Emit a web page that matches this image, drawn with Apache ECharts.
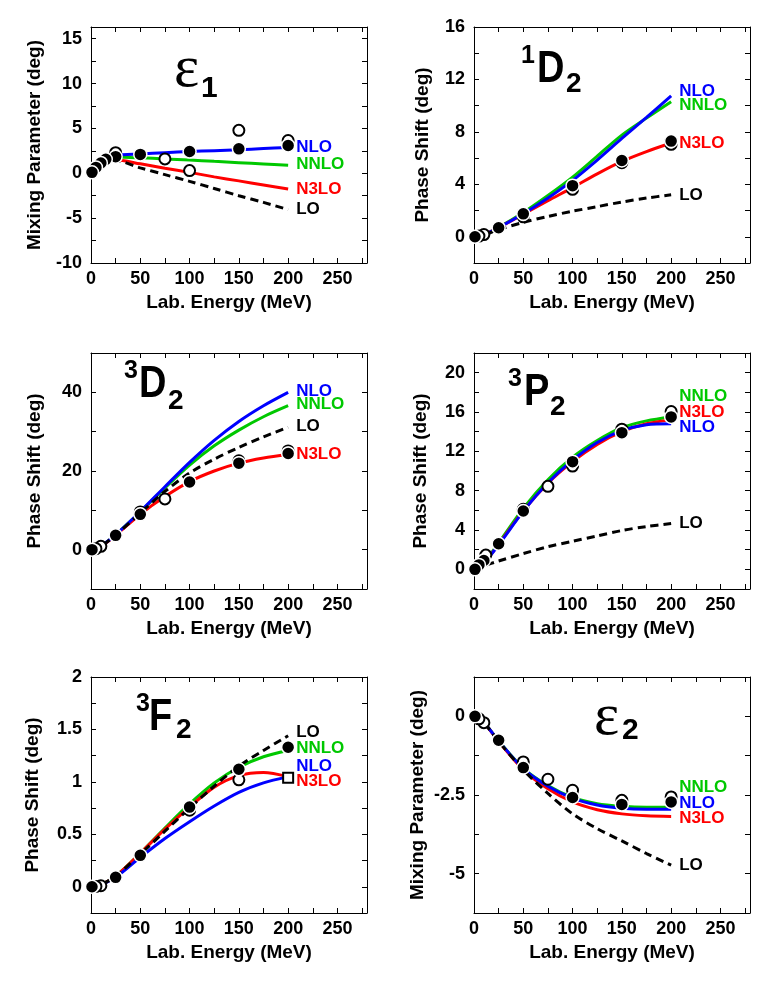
<!DOCTYPE html>
<html lang="en">
<head>
<meta charset="UTF-8">
<title>NN phase shifts</title>
<style>
  html, body { margin: 0; padding: 0; background: #fff; }
  #chart { width: 777px; height: 986px; }
</style>
</head>
<body>
<div id="chart"></div>
<script src="https://cdn.jsdelivr.net/npm/echarts@6/dist/echarts.min.js"></script>
<script>
// lab energies (MeV) at which the curves are read
var energies = [0, 10, 25, 50, 75, 100, 125, 150, 175, 200];

// epsilon 1
var e1LO   = [0, 1.05, 1.4, 0.6, -0.15, -0.9, -1.7, -2.5, -3.25, -4.05];
var e1NLO  = [0, 1.15, 1.95, 2.15, 2.3, 2.42, 2.52, 2.62, 2.75, 2.88];
var e1NNLO = [0, 1.15, 1.8, 1.72, 1.6, 1.48, 1.33, 1.18, 1.03, 0.88];
var e1N3LO = [0, 1.1, 1.5, 1.05, 0.55, 0.1, -0.4, -0.85, -1.3, -1.75];
var e1Filled = [[200, 3.1], [150, 2.72], [100, 2.42], [50, 2.1], [25, 1.85], [15, 1.55], [10, 1.15], [5, 0.65], [1, 0.1]];
var e1Open   = [[200, 3.65], [150, 4.78], [100, 0.3], [75, 1.6], [25, 2.3]];

// 1D2
var d1LO   = [0, 0.15, 0.55, 1.1, 1.55, 1.95, 2.3, 2.65, 2.95, 3.2];
var d1NLO  = [0, 0.17, 0.7, 1.75, 2.95, 4.3, 5.85, 7.5, 9.1, 10.75];
var d1NNLO = [0, 0.17, 0.72, 1.85, 3.15, 4.55, 6.15, 7.75, 9.05, 10.3];
var d1N3LO = [0, 0.17, 0.7, 1.72, 2.75, 3.75, 4.8, 5.75, 6.5, 7.15];
var d1Filled = [[200, 7.3], [150, 5.82], [100, 3.9], [50, 1.75], [25, 0.69], [1, 0]];
var d1Open   = [[200, 7.05], [150, 5.65], [100, 3.62], [50, 1.52], [10, 0.17], [5, 0.05]];

// 3D2
var d3LO   = [0, 0.9, 3.7, 9.3, 14.8, 19.5, 23.0, 26.0, 28.7, 31.1];
var d3NLO  = [0, 0.9, 3.8, 9.7, 16.0, 22.2, 27.8, 32.6, 36.6, 40.0];
var d3NNLO = [0, 0.9, 3.8, 9.6, 15.7, 21.5, 26.4, 30.4, 33.8, 36.6];
var d3N3LO = [0, 0.85, 3.65, 9.0, 13.5, 17.3, 20.0, 22.0, 23.3, 24.2];
var d3Filled = [[200, 24.45], [150, 22.0], [100, 17.2], [50, 8.98], [25, 3.65], [1, 0]];
var d3Open   = [[200, 25.1], [150, 22.6], [75, 12.9], [50, 9.6], [10, 0.85], [5, 0.25]];

// 3P2
var p3LO   = [0, 0.35, 0.85, 1.6, 2.3, 2.85, 3.4, 3.95, 4.35, 4.65];
var p3NLO  = [0, 0.65, 2.5, 5.9, 8.8, 11.1, 12.9, 14.1, 14.7, 14.8];
var p3NNLO = [0, 0.7, 2.7, 6.2, 9.1, 11.4, 13.1, 14.4, 15.1, 15.5];
var p3N3LO = [0, 0.65, 2.55, 5.95, 8.75, 10.95, 12.7, 14.0, 14.8, 15.2];
var p3Filled = [[200, 15.5], [150, 13.9], [100, 10.95], [50, 5.93], [25, 2.6], [10, 0.9], [5, 0.45], [1, 0]];
var p3Open   = [[200, 16.05], [150, 14.25], [100, 10.5], [75, 8.44], [50, 6.1], [12, 1.45]];

// 3F2
var f3LO   = [0, 0.02, 0.1, 0.31, 0.53, 0.75, 0.96, 1.15, 1.3, 1.44];
var f3NLO  = [0, 0.02, 0.09, 0.28, 0.46, 0.62, 0.77, 0.9, 0.99, 1.05];
var f3NNLO = [0, 0.02, 0.1, 0.32, 0.56, 0.79, 0.99, 1.14, 1.24, 1.3];
var f3N3LO = [0, 0.02, 0.1, 0.32, 0.55, 0.76, 0.95, 1.06, 1.09, 1.05];
var f3Filled = [[200, 1.33], [150, 1.12], [100, 0.76], [50, 0.3], [25, 0.09], [1, 0]];
var f3Open   = [[150, 1.02], [100, 0.73], [10, 0.01], [5, 0.003]];
var f3Square = [[200, 1.04]];

// epsilon 2
var e2LO   = [0, -0.2, -0.8, -1.7, -2.45, -3.1, -3.57, -3.96, -4.36, -4.73];
var e2NLO  = [0, -0.2, -0.78, -1.66, -2.22, -2.6, -2.82, -2.92, -2.95, -2.95];
var e2NNLO = [0, -0.2, -0.78, -1.65, -2.2, -2.58, -2.78, -2.86, -2.89, -2.88];
var e2N3LO = [0, -0.2, -0.8, -1.7, -2.3, -2.72, -2.97, -3.1, -3.16, -3.18];
var e2Filled = [[200, -2.72], [150, -2.8], [100, -2.58], [50, -1.63], [25, -0.76], [1, 0]];
var e2Open   = [[200, -2.56], [150, -2.67], [100, -2.35], [75, -2.0], [50, -1.45], [10, -0.2], [5, -0.08]];

var FONT = '"Liberation Sans", Arial, sans-serif';
var colors = { NNLO: '#00c800', N3LO: '#ff0000', NLO: '#0000ff', LO: '#000000' };

var panels = [
  { left: 91, top: 27, yName: 'Mixing Parameter (deg)', min: -10, max: 16.3, step: 2.5, every: 5, gap: 47,
    curves: { NNLO: e1NNLO, N3LO: e1N3LO, NLO: e1NLO, LO: e1LO }, offs: { NNLO: -1, N3LO: 0, NLO: 0, LO: 0 },
    filled: e1Filled, open: e1Open },
  { left: 474, top: 27, yName: 'Phase Shift (deg)', min: -2, max: 16, step: 2, every: 4, gap: 42,
    curves: { NNLO: d1NNLO, N3LO: d1N3LO, NLO: d1NLO, LO: d1LO }, offs: { NNLO: 4, N3LO: 0, NLO: -5, LO: 0 },
    filled: d1Filled, open: d1Open },
  { left: 91, top: 353, yName: 'Phase Shift (deg)', min: -10, max: 50, step: 10, every: 20, gap: 47,
    curves: { NNLO: d3NNLO, N3LO: d3N3LO, NLO: d3NLO, LO: d3LO }, offs: { NNLO: -1, N3LO: 0, NLO: -1, LO: -1 },
    filled: d3Filled, open: d3Open },
  { left: 474, top: 353, yName: 'Phase Shift (deg)', min: -2, max: 22, step: 2, every: 4, gap: 44,
    curves: { NNLO: p3NNLO, N3LO: p3N3LO, NLO: p3NLO, LO: p3LO }, offs: { NNLO: -21, N3LO: -8, NLO: 3.5, LO: 0 },
    filled: p3Filled, open: p3Open },
  { left: 91, top: 677, yName: 'Phase Shift (deg)', min: -0.25, max: 2, step: 0.25, every: 0.5, gap: 49,
    curves: { NNLO: f3NNLO, N3LO: f3N3LO, NLO: f3NLO, LO: f3LO }, offs: { NNLO: -2, N3LO: 5, NLO: -10.5, LO: -3 },
    filled: f3Filled, open: f3Open, square: f3Square },
  { left: 474, top: 677, yName: 'Mixing Parameter (deg)', min: -6.25, max: 1.25, step: 1.25, every: 2.5, gap: 47,
    curves: { NNLO: e2NNLO, N3LO: e2N3LO, NLO: e2NLO, LO: e2LO }, offs: { NNLO: -20, N3LO: 2.3, NLO: -5.5, LO: 0 },
    filled: e2Filled, open: e2Open }
];

// panel labels: [text, x, y, size, serif, scaleY]
var titles = [
  [['ε', 174, 40, 60, true], ['1', 201, 74, 30]],
  [['1', 521, 43.7, 25], ['D', 537, 48.3, 38, false, 1.15], ['2', 566, 70.3, 28]],
  [['3', 124, 358.7, 25], ['D', 139, 363.3, 38, false, 1.15], ['2', 168, 387, 28]],
  [['3', 508, 366.7, 25], ['P', 524, 371.3, 38, false, 1.15], ['2', 550, 393.3, 28]],
  [['3', 136, 691.7, 25], ['F', 149, 696.3, 38, false, 1.15], ['2', 176, 716, 28]],
  [['ε', 594, 688, 60, true], ['2', 622, 716, 30]]
];

function every(step) {
  return function (v) {
    var r = v / step;
    return Math.abs(r - Math.round(r)) < 1e-6 ? String(+v.toFixed(2)) : '';
  };
}

var tickStyle = { show: true, inside: true, length: 5, lineStyle: { color: '#000', width: 1 } };
var lineAxis = { show: true, onZero: false, lineStyle: { color: '#000', width: 1 } };
var labelFont = { fontFamily: FONT, fontWeight: 'bold', fontSize: 18, color: '#000' };

var grids = [], xAxes = [], yAxes = [], series = [], graphics = [];

panels.forEach(function (p, i) {
  grids.push({ left: p.left, top: p.top, width: 276, height: 236 });
  var xb = { gridIndex: i, type: 'value', min: 0, max: 280, interval: 25,
    axisLine: lineAxis, axisTick: tickStyle, splitLine: { show: false } };
  xAxes.push(Object.assign({}, xb, { position: 'bottom',
    axisLabel: Object.assign({ formatter: every(50), margin: 7 }, labelFont),
    name: 'Lab. Energy (MeV)', nameLocation: 'middle', nameGap: 30,
    nameTextStyle: { fontFamily: FONT, fontWeight: 'bold', fontSize: 19, color: '#000' } }));
  xAxes.push(Object.assign({}, xb, { position: 'top', axisLabel: { show: false } }));

  var yb = { gridIndex: i, type: 'value', min: p.min, max: p.max, interval: p.step,
    axisLine: lineAxis, axisTick: tickStyle, splitLine: { show: false } };
  yAxes.push(Object.assign({}, yb, { position: 'left',
    axisLabel: Object.assign({ formatter: every(p.every), margin: 9, showMaxLabel: true }, labelFont),
    name: p.yName, nameLocation: 'middle', nameGap: p.gap, nameRotate: 90,
    nameTextStyle: { fontFamily: FONT, fontWeight: 'bold', fontSize: 19, color: '#000' } }));
  yAxes.push(Object.assign({}, yb, { position: 'right', axisLabel: { show: false } }));

  ['NNLO', 'N3LO', 'NLO', 'LO'].forEach(function (key) {
    var vals = p.curves[key];
    series.push({
      type: 'line', name: key, xAxisIndex: 2 * i, yAxisIndex: 2 * i,
      data: energies.map(function (e, k) { return [e, vals[k]]; }),
      smooth: 0.3, showSymbol: false, symbol: 'none', z: 2,
      lineStyle: { color: colors[key], width: 3, type: key === 'LO' ? [8, 5] : 'solid' },
      endLabel: { show: true, formatter: key, distance: 8, offset: [0, p.offs[key]],
        color: colors[key], fontFamily: FONT, fontWeight: 'bold', fontSize: 17 }
    });
  });

  series.push({ type: 'scatter', xAxisIndex: 2 * i, yAxisIndex: 2 * i, data: p.open, z: 3,
    symbol: 'circle', symbolSize: 11,
    itemStyle: { color: '#fff', borderColor: '#000', borderWidth: 2, opacity: 1 } });
  if (p.square) {
    series.push({ type: 'scatter', xAxisIndex: 2 * i, yAxisIndex: 2 * i, data: p.square, z: 3,
      symbol: 'rect', symbolSize: 10,
      itemStyle: { color: '#fff', borderColor: '#000', borderWidth: 2, opacity: 1 } });
  }
  series.push({ type: 'scatter', xAxisIndex: 2 * i, yAxisIndex: 2 * i, data: p.filled, z: 3,
    symbol: 'circle', symbolSize: 13,
    itemStyle: { color: '#000', borderColor: '#fff', borderWidth: 1.5, opacity: 1 } });

  titles[i].forEach(function (t) {
    graphics.push({
      type: 'text', x: t[1], y: t[2], scaleY: t[5] || 1, z: 10,
      style: { text: t[0], fill: '#000', align: 'left', verticalAlign: 'top',
        font: (t[4] ? '' : 'bold ') + t[3] + 'px ' + (t[4] ? '"Liberation Serif", serif' : FONT) }
    });
  });
});

var chart = echarts.init(document.getElementById('chart'));
chart.setOption({
  animation: false,
  backgroundColor: '#fff',
  grid: grids,
  xAxis: xAxes,
  yAxis: yAxes,
  series: series,
  graphic: graphics
});
</script>
</body>
</html>
